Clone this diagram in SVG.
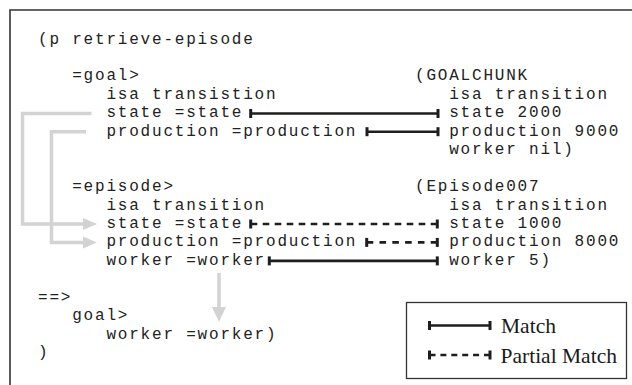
<svg xmlns="http://www.w3.org/2000/svg" width="632" height="385" viewBox="0 0 632 385">
  <style>
    .mono { font-family: "Liberation Mono", "Courier New", monospace; font-size: 16px; letter-spacing: 1.8px; fill: #222; }
    .serif { font-family: "Liberation Serif", "Times New Roman", serif; font-size: 21.5px; fill: #1a1a1a; }
    .frame { fill: none; stroke: #333; stroke-width: 1.6; }
    .match { stroke: #1e1e1e; stroke-width: 2.6; fill: none; }
    .tick { stroke: #1e1e1e; stroke-width: 3; }
    .grey { stroke: #d3d3d3; stroke-width: 3.5; fill: none; }
    .greyhead { fill: #d3d3d3; }
  </style>
  <rect width="632" height="385" fill="#fff"/>
  <path class="frame" d="M10 385 V10 H632"/>

  <g id="production-rule">
    <text class="mono" x="38" y="43.5">(p retrieve-episode</text>
    <text class="mono" x="72.2" y="80.4">=goal&gt;</text>
    <text class="mono" x="106.4" y="98.8">isa transistion</text>
    <text class="mono" x="106.4" y="117.3">state =state</text>
    <text class="mono" x="106.4" y="135.7">production =production</text>
    <text class="mono" x="72.2" y="191.1">=episode&gt;</text>
    <text class="mono" x="106.4" y="209.5">isa transition</text>
    <text class="mono" x="106.4" y="228">state =state</text>
    <text class="mono" x="106.4" y="246.4">production =production</text>
    <text class="mono" x="106.4" y="264.9">worker =worker</text>
    <text class="mono" x="38" y="301.8">==&gt;</text>
    <text class="mono" x="72.2" y="320.2">goal&gt;</text>
    <text class="mono" x="106.4" y="338.7">worker =worker)</text>
    <text class="mono" x="38" y="357.1">)</text>
  </g>

  <g id="goalchunk">
    <text class="mono" x="415" y="80.4">(GOALCHUNK</text>
    <text class="mono" x="449.2" y="98.8">isa transition</text>
    <text class="mono" x="449.2" y="117.3">state 2000</text>
    <text class="mono" x="449.2" y="135.7">production 9000</text>
    <text class="mono" x="449.2" y="154.2">worker nil)</text>
  </g>

  <g id="episode007">
    <text class="mono" x="415" y="191.1">(Episode007</text>
    <text class="mono" x="449.2" y="209.5">isa transition</text>
    <text class="mono" x="449.2" y="228">state 1000</text>
    <text class="mono" x="449.2" y="246.4">production 8000</text>
    <text class="mono" x="449.2" y="264.9">worker 5)</text>
  </g>

  <g id="legend">
    <rect x="406.5" y="302.5" width="220" height="76" fill="none" stroke="#333" stroke-width="1.3"/>
    <line class="match" x1="429.5" y1="325.5" x2="490" y2="325.5"/>
    <line class="tick" x1="429.5" y1="321" x2="429.5" y2="330"/>
    <line class="tick" x1="490" y1="321" x2="490" y2="330"/>
    <text class="serif" x="501" y="333">Match</text>
    <line class="match" x1="429.5" y1="355" x2="490" y2="355" stroke-dasharray="6 4.9"/>
    <line class="tick" x1="429.5" y1="350.5" x2="429.5" y2="359.5"/>
    <line class="tick" x1="490" y1="350.5" x2="490" y2="359.5"/>
    <text class="serif" x="500.5" y="362.5">Partial Match</text>
  </g>

  <g id="connectors">
    <line class="match" x1="250.7" y1="113.5" x2="438" y2="113.5"/>
    <line class="tick" x1="250.7" y1="109" x2="250.7" y2="118"/>
    <line class="tick" x1="438" y1="109" x2="438" y2="118"/>
    <line class="match" x1="367" y1="131.7" x2="438" y2="131.7"/>
    <line class="tick" x1="367" y1="127.2" x2="367" y2="136.2"/>
    <line class="tick" x1="438" y1="127.2" x2="438" y2="136.2"/>
    <line class="match" x1="250.7" y1="224" x2="437.3" y2="224" stroke-dasharray="6.6 5.4"/>
    <line class="tick" x1="250.7" y1="219.5" x2="250.7" y2="228.5"/>
    <line class="tick" x1="437.3" y1="219.5" x2="437.3" y2="228.5"/>
    <line class="match" x1="366.7" y1="242.4" x2="437.3" y2="242.4" stroke-dasharray="6.6 6.2"/>
    <line class="tick" x1="366.7" y1="237.9" x2="366.7" y2="246.9"/>
    <line class="tick" x1="437.3" y1="237.9" x2="437.3" y2="246.9"/>
    <line class="match" x1="269.3" y1="260.9" x2="437.3" y2="260.9"/>
    <line class="tick" x1="269.3" y1="256.4" x2="269.3" y2="265.4"/>
    <line class="tick" x1="437.3" y1="256.4" x2="437.3" y2="265.4"/>

    <path class="grey" d="M91.5 113.5 H22.5 V224 H85"/>
    <polygon class="greyhead" points="83,218 97,224 83,230"/>
    <path class="grey" d="M86 131.7 H51.5 V242.4 H85"/>
    <polygon class="greyhead" points="83,236.4 97,242.4 83,248.4"/>
    <line class="grey" x1="219" y1="273" x2="219" y2="309"/>
    <polygon class="greyhead" points="212,307 226,307 219,322"/>
  </g>
</svg>
